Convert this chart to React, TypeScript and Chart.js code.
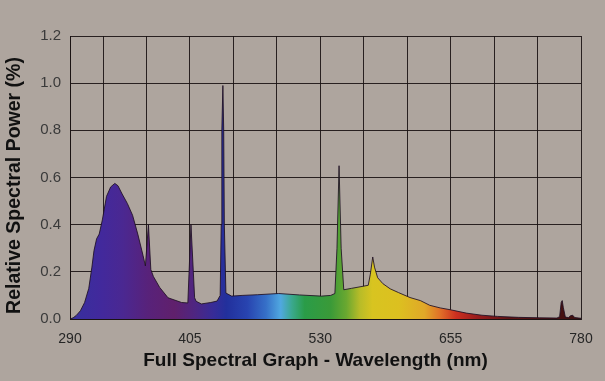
import { useEffect, useRef } from "react";
import { Chart, registerables } from "chart.js";

Chart.register(...registerables);

// Wavelength (nm) samples and relative spectral power
const wavelengths = [
  290, 293, 296, 300, 304, 308, 311, 313, 315.5, 318, 321, 325, 329, 333, 336, 340, 345, 350, 355, 360,
  362.3, 365.2, 367.5, 370, 376, 384, 397, 403, 406, 409.5, 411, 416, 425,
  431, 434, 435, 435.6, 436.6, 437.4, 438, 439.5, 445, 455, 470, 490, 510, 531, 540, 544, 546, 548, 550,
  552.5, 560, 570, 576, 578, 580.3, 582, 585, 590, 597, 605, 616, 626, 635, 645, 655, 670, 685, 700,
  720, 740, 757, 759.5, 761, 762, 763, 765, 768, 770, 772, 774, 780,
];
const power = [
  0.0, 0.005, 0.015, 0.035, 0.07, 0.13, 0.22, 0.29, 0.34, 0.36, 0.42, 0.52, 0.56, 0.575, 0.565, 0.53, 0.49, 0.44, 0.36, 0.27,
  0.225, 0.4, 0.21, 0.18, 0.134, 0.09, 0.07, 0.068, 0.4, 0.09, 0.075, 0.064, 0.07,
  0.076, 0.1, 0.4, 0.8, 0.99, 0.8, 0.4, 0.11, 0.097, 0.1, 0.103, 0.108, 0.102, 0.097, 0.1, 0.108, 0.3, 0.65, 0.3,
  0.124, 0.13, 0.138, 0.143, 0.19, 0.263, 0.22, 0.175, 0.15, 0.128, 0.112, 0.091, 0.078, 0.058, 0.047, 0.039, 0.025, 0.016, 0.011,
  0.007, 0.005, 0.004, 0.01, 0.07, 0.078, 0.05, 0.008, 0.006, 0.014, 0.016, 0.006, 0.003,
];

// Grid positions on the wavelength axis and the ones that carry a label
const xGrid = [290, 321.67, 363.33, 405, 446.67, 488.33, 530, 571.67, 613.33, 655, 696.67, 738.33, 780];
const xTickLabels = [290, 405, 530, 655, 780];
const yTickStep = 0.2;

const X_TITLE = "Full Spectral Graph - Wavelength (nm)";
const Y_TITLE = "Relative Spectral Power (%)";

// Spectral colour stops (nm, colour) for the area fill
const spectrumStops: [number, string][] = [
  [290, "#36309e"],
  [320, "#42299c"],
  [340, "#4a2892"],
  [365, "#58227a"],
  [390, "#60206c"],
  [410, "#4e2682"],
  [428, "#362c98"],
  [440, "#22309c"],
  [460, "#2844b0"],
  [478, "#3670c8"],
  [492, "#50a8e0"],
  [503, "#3aa88c"],
  [515, "#2a9c48"],
  [540, "#3a9a38"],
  [555, "#6aa830"],
  [568, "#b8bc28"],
  [580, "#d8c420"],
  [605, "#dcc020"],
  [630, "#e0a828"],
  [645, "#e07028"],
  [660, "#cc3020"],
  [680, "#9a1c1c"],
  [710, "#601414"],
  [780, "#3c1010"],
];

const BG = "#aea59e";
const GRID = "rgba(25,18,18,0.9)";
const FONT = '"Liberation Sans", Arial, sans-serif';

export default function App() {
  const ref = useRef<HTMLCanvasElement>(null);

  useEffect(() => {
    const canvas = ref.current;
    if (!canvas) return;

    const bgPlugin = {
      id: "bgFill",
      beforeDraw(chart: any) {
        const c = chart.ctx;
        c.save();
        c.fillStyle = BG;
        c.fillRect(0, 0, chart.width, chart.height);
        c.restore();
      },
    };

    const titlePlugin = {
      id: "axisTitles",
      afterDraw(chart: any) {
        const { left, right, top, bottom } = chart.chartArea;
        const c = chart.ctx;
        c.save();
        c.fillStyle = "#111";
        c.textAlign = "center";
        c.textBaseline = "alphabetic";
        c.font = `bold 19px ${FONT}`;
        c.fillText(X_TITLE, (left + right) / 2 - 10, bottom + 47);
        c.translate(19.5, (top + bottom) / 2 + 8);
        c.rotate(-Math.PI / 2);
        c.font = `bold 19.5px ${FONT}`;
        c.fillText(Y_TITLE, 0, 0);
        c.restore();
      },
    };

    const chart = new Chart(canvas, {
      type: "line",
      data: {
        datasets: [
          {
            data: wavelengths.map((w, i) => ({ x: w, y: power[i] })),
            fill: "origin",
            tension: 0,
            pointRadius: 0,
            borderWidth: 1,
            borderColor: "rgba(30,15,35,0.85)",
            backgroundColor: (ctx: any) => {
              const ch = ctx.chart;
              if (!ch.chartArea) return "rgba(0,0,0,0)";
              const xs = ch.scales.x;
              const g = ch.ctx.createLinearGradient(xs.getPixelForValue(290), 0, xs.getPixelForValue(780), 0);
              spectrumStops.forEach(([nm, col]) => g.addColorStop((nm - 290) / 490, col));
              return g;
            },
          },
        ],
      },
      options: {
        responsive: false,
        devicePixelRatio: 1,
        animation: false,
        layout: { padding: { top: 36, right: 24, left: 0, bottom: 0 } },
        plugins: {
          legend: { display: false },
          tooltip: { enabled: false },
        },
        scales: {
          x: {
            type: "linear",
            min: 290,
            max: 780,
            z: 1,
            afterBuildTicks: (s: any) => {
              s.ticks = xGrid.map((v) => ({ value: v }));
            },
            afterFit: (s: any) => {
              s.height = 62;
            },
            grid: { color: GRID, lineWidth: 1, drawTicks: false },
            border: { display: true, color: GRID },
            ticks: {
              autoSkip: false,
              maxRotation: 0,
              padding: 12,
              color: "#262626",
              font: { family: FONT, size: 14 },
              callback: (v: any) => {
                const r = Math.round(Number(v));
                return xTickLabels.includes(r) ? String(r) : "";
              },
            },
            title: { display: false },
          },
          y: {
            min: 0,
            max: 1.2,
            z: 1,
            afterFit: (s: any) => {
              s.width = 70;
            },
            grid: { color: GRID, lineWidth: 1, drawTicks: false },
            border: { display: true, color: GRID },
            ticks: {
              stepSize: yTickStep,
              padding: 9,
              color: "#3a3a3a",
              font: { family: FONT, size: 15 },
              callback: (v: any) => Number(v).toFixed(1),
            },
            title: { display: false },
          },
        },
      },
      plugins: [bgPlugin, titlePlugin],
    } as any);

    return () => chart.destroy();
  }, []);

  return (
    <div style={{ position: "absolute", left: 0, top: 0, width: 605, height: 381 }}>
      <canvas ref={ref} width={605} height={381} style={{ display: "block" }} />
    </div>
  );
}
